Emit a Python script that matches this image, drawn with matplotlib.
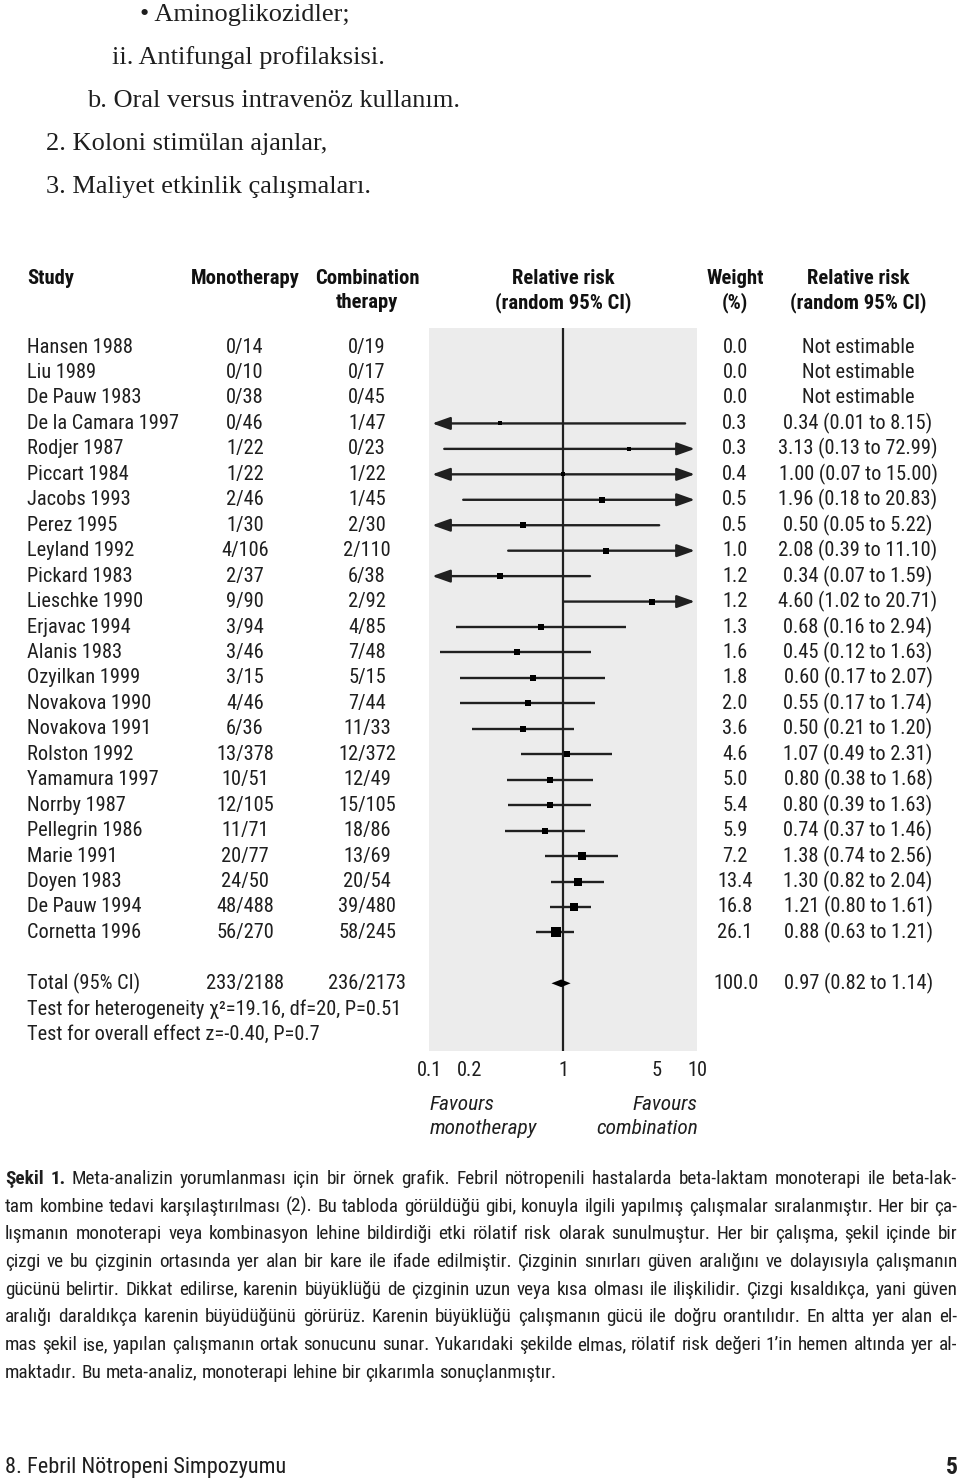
import os
import numpy as np
import matplotlib
matplotlib.use("Agg")
import matplotlib.pyplot as plt
from matplotlib import font_manager as fm
from matplotlib.transforms import blended_transform_factory

# ---------------- data ----------------
studies = ["Hansen 1988", "Liu 1989", "De Pauw 1983", "De la Camara 1997", "Rodjer 1987",
           "Piccart 1984", "Jacobs 1993", "Perez 1995", "Leyland 1992", "Pickard 1983",
           "Lieschke 1990", "Erjavac 1994", "Alanis 1983", "Ozyilkan 1999", "Novakova 1990",
           "Novakova 1991", "Rolston 1992", "Yamamura 1997", "Norrby 1987", "Pellegrin 1986",
           "Marie 1991", "Doyen 1983", "De Pauw 1994", "Cornetta 1996"]
mono = ["0/14", "0/10", "0/38", "0/46", "1/22", "1/22", "2/46", "1/30", "4/106", "2/37",
        "9/90", "3/94", "3/46", "3/15", "4/46", "6/36", "13/378", "10/51", "12/105", "11/71",
        "20/77", "24/50", "48/488", "56/270"]
comb = ["0/19", "0/17", "0/45", "1/47", "0/23", "1/22", "1/45", "2/30", "2/110", "6/38",
        "2/92", "4/85", "7/48", "5/15", "7/44", "11/33", "12/372", "12/49", "15/105", "18/86",
        "13/69", "20/54", "39/480", "58/245"]
weight = [0.0, 0.0, 0.0, 0.3, 0.3, 0.4, 0.5, 0.5, 1.0, 1.2, 1.2, 1.3, 1.6, 1.8, 2.0, 3.6,
          4.6, 5.0, 5.4, 5.9, 7.2, 13.4, 16.8, 26.1]
nan = np.nan
rr = [nan, nan, nan, 0.34, 3.13, 1.00, 1.96, 0.50, 2.08, 0.34, 4.60, 0.68, 0.45, 0.60, 0.55,
      0.50, 1.07, 0.80, 0.80, 0.74, 1.38, 1.30, 1.21, 0.88]
rr_lo = [nan, nan, nan, 0.01, 0.13, 0.07, 0.18, 0.05, 0.39, 0.07, 1.02, 0.16, 0.12, 0.17, 0.17,
         0.21, 0.49, 0.38, 0.39, 0.37, 0.74, 0.82, 0.80, 0.63]
rr_hi = [nan, nan, nan, 8.15, 72.99, 15.00, 20.83, 5.22, 11.10, 1.59, 20.71, 2.94, 1.63, 2.07,
         1.74, 1.20, 2.31, 1.68, 1.63, 1.46, 2.56, 2.04, 1.61, 1.21]
total_mono = "233/2188"
total_comb = "236/2173"
total_weight = 100.0
total_rr, total_lo, total_hi = 0.97, 0.82, 1.14
het_text = "Test for heterogeneity \u03c7\u00b2=19.16, df=20, P=0.51"
overall_text = "Test for overall effect z=-0.40, P=0.7"
xticks = [0.1, 0.2, 1, 5, 10]
xtick_labels = ["0.1", "0.2", "1", "5", "10"]

top_lines = ["\u2022 Aminoglikozidler;", "ii. Antifungal profilaksisi.",
             "b. Oral versus intravenöz kullanım.", "2. Koloni stimülan ajanlar,",
             "3. Maliyet etkinlik çalışmaları."]
caption_lines = [
    "Meta-analizin yorumlanması için bir örnek grafik. Febril nötropenili hastalarda beta-laktam monoterapi ile beta-lak-",
    "tam kombine tedavi karşılaştırılması (2). Bu tabloda görüldüğü gibi, konuyla ilgili yapılmış çalışmalar sıralanmıştır. Her bir ça-",
    "lışmanın monoterapi veya kombinasyon lehine bildirdiği etki rölatif risk olarak sunulmuştur. Her bir çalışma, şekil içinde bir",
    "çizgi ve bu çizginin ortasında yer alan bir kare ile ifade edilmiştir. Çizginin sınırları güven aralığını ve dolayısıyla çalışmanın",
    "gücünü belirtir. Dikkat edilirse, karenin büyüklüğü de çizginin uzun veya kısa olması ile ilişkilidir. Çizgi kısaldıkça, yani güven",
    "aralığı daraldıkça karenin büyüdüğünü görürüz. Karenin büyüklüğü çalışmanın gücü ile doğru orantılıdır. En altta yer alan el-",
    "mas şekil ise, yapılan çalışmanın ortak sonucunu sunar. Yukarıdaki şekilde elmas, rölatif risk değeri 1\u2019in hemen altında yer al-",
    "maktadır. Bu meta-analiz, monoterapi lehine bir çıkarımla sonuçlanmıştır."]
caption_label = "Şekil 1."
footer_left = "8. Febril Nötropeni Simpozyumu"
footer_right = "5"

# ---------------- fonts: prefer a condensed sans ----------------
all_paths = set(fm.findSystemFonts(fontext="ttf")) | {f.fname for f in fm.fontManager.ttflist}
by_base = {}
for p in all_paths:
    by_base.setdefault(os.path.basename(p).lower(), p)

candidates = [
    ("liberationsansnarrow-regular.ttf", "liberationsansnarrow-bold.ttf", "liberationsansnarrow-italic.ttf"),
    ("robotocondensed-regular.ttf", "robotocondensed-bold.ttf", "robotocondensed-italic.ttf"),
    ("robotocondensed-light.ttf", "robotocondensed-bold.ttf", "robotocondensed-lightitalic.ttf"),
    ("dejavusanscondensed.ttf", "dejavusanscondensed-bold.ttf", "dejavusanscondensed-oblique.ttf"),
    ("opensanscondensed-light.ttf", "opensanscondensed-bold.ttf", "opensanscondensed-lightitalic.ttf"),
    ("roboto-regular.ttf", "roboto-bold.ttf", "roboto-italic.ttf"),
    ("liberationsans-regular.ttf", "liberationsans-bold.ttf", "liberationsans-italic.ttf"),
]
font_files = None
for reg, bld, ita in candidates:
    if reg in by_base:
        r = by_base[reg]
        font_files = (r, by_base.get(bld, r), by_base.get(ita, r))
        break


def FP(kind, size):
    if font_files is None:
        p = fm.FontProperties(family="DejaVu Sans",
                              weight="bold" if kind == 1 else "normal",
                              style="italic" if kind == 2 else "normal")
    else:
        p = fm.FontProperties(fname=font_files[kind])
    p.set_size(size)
    return p


SERIF = "Liberation Serif"
TXT = "#1e1e1e"
LINE = "#202020"

fig = plt.figure(figsize=(9.6, 14.82), dpi=100)
bg = fig.add_axes([0, 0, 1, 1])
bg.set_xlim(0, 960)
bg.set_ylim(1482, 0)
bg.axis("off")
renderer = fig.canvas.get_renderer()


def text_w(s, kind, size):
    t = bg.text(0, 0, s, fontproperties=FP(kind, size))
    w = t.get_window_extent(renderer).width
    t.remove()
    return w


def fit_size(s, kind, target_px, base=14.0, cap=None):
    sz = base * target_px / text_w(s, kind, base)
    return min(sz, cap) if cap else sz


# ---------------- top serif text ----------------
top_x = [140, 112, 87, 46, 46]
for i, (s, x) in enumerate(zip(top_lines, top_x)):
    bg.text(x, 15 + 43 * i, s, family=[SERIF, "DejaVu Serif"], fontsize=19, color=TXT,
            va="center", ha="left")

# ---------------- sizes ----------------
FS = fit_size("De la Camara 1997", 0, 153, cap=16)
HFS = fit_size("Monotherapy", 1, 109, cap=16)
IFS = fit_size("monotherapy", 2, 108, cap=16)

# ---------------- forest panel ----------------
ax = fig.add_axes([429 / 960, 1 - 1051 / 1482, (697 - 429) / 960, (1051 - 328) / 1482])
ax.set_facecolor("#ececec")
for sp in ax.spines.values():
    sp.set_visible(False)
ax.set_xscale("log")
xmin, xmax = 0.1026, 9.92
ax.set_xlim(xmin, xmax)
ax.set_ylim(27.66, -0.75)
ax.set_yticks([])
ax.set_xticks(xticks)
ax.set_xticklabels(xtick_labels)
ax.xaxis.set_minor_locator(matplotlib.ticker.NullLocator())
ax.tick_params(axis="x", length=0, pad=7, labelcolor=TXT)
for lbl in ax.get_xticklabels():
    lbl.set_fontproperties(FP(0, FS))
ax.axvline(1, color=LINE, lw=1.6, zorder=2)

rows = np.arange(len(studies))
for i in rows:
    if np.isnan(rr[i]):
        continue
    lo, hi = rr_lo[i], rr_hi[i]
    left_arrow = lo < xmin
    right_arrow = hi > xmax
    lo_c = xmin * 1.03 if left_arrow else lo
    hi_c = xmax / 1.03 if right_arrow else hi
    if left_arrow and right_arrow:
        style = "<|-|>"
    elif left_arrow:
        style = "<|-"
    elif right_arrow:
        style = "-|>"
    else:
        style = "-"
    if style == "-":
        ax.plot([lo_c, hi_c], [i, i], color=LINE, lw=1.7, solid_capstyle="butt", zorder=3)
    else:
        ax.annotate("", xy=(hi_c, i), xytext=(lo_c, i),
                    arrowprops=dict(arrowstyle=style + ",head_length=0.9,head_width=0.32",
                                    color=LINE, lw=1.7, shrinkA=0, shrinkB=0,
                                    mutation_scale=12), zorder=3)
    side_px = 4.2 + 1.15 * np.sqrt(weight[i])
    ax.plot(rr[i], i, marker="s", ms=side_px * 0.72, color="black", mec="black", mew=0, zorder=4)

total_row = len(studies) + 1
ax.fill([total_lo, total_rr, total_hi, total_rr],
        [total_row, total_row - 0.15, total_row, total_row + 0.15],
        color="black", zorder=4, lw=0)

# ---------------- table text ----------------
tr = blended_transform_factory(bg.transData, ax.transData)


def H(x, y, s, ha):
    bg.text(x, y, s, ha=ha, va="center", color="#111111", fontproperties=FP(1, HFS))


H(27, 278, "Study", "left")
H(245, 278, "Monotherapy", "center")
H(367, 278, "Combination", "center")
H(367, 303, "therapy", "center")
H(563, 278, "Relative risk", "center")
H(563, 303, "(random 95% CI)", "center")
H(735, 278, "Weight", "center")
H(735, 303, "(%)", "center")
H(858, 278, "Relative risk", "center")
H(858, 303, "(random 95% CI)", "center")


def C(x, y, s, ha):
    bg.text(x, y, s, ha=ha, va="center", color=TXT, transform=tr, fontproperties=FP(0, FS))


for i in rows:
    C(27, i, studies[i], "left")
    C(245, i, mono[i], "center")
    C(367, i, comb[i], "center")
    C(735, i, f"{weight[i]:.1f}", "center")
    if np.isnan(rr[i]):
        s = "Not estimable"
    else:
        s = f"{rr[i]:.2f} ({rr_lo[i]:.2f} to {rr_hi[i]:.2f})"
    C(858, i, s, "center")

C(27, total_row, "Total (95% CI)", "left")
C(245, total_row, total_mono, "center")
C(367, total_row, total_comb, "center")
C(736, total_row, f"{total_weight:.1f}", "center")
C(859, total_row, f"{total_rr:.2f} ({total_lo:.2f} to {total_hi:.2f})", "center")
C(27, total_row + 1, het_text, "left")
C(27, total_row + 2, overall_text, "left")

for x, ha, words in [(430, "left", ("Favours", "monotherapy")),
                     (698, "right", ("Favours", "combination"))]:
    bg.text(x, 1105, words[0], ha=ha, va="center", color=TXT, fontproperties=FP(2, IFS))
    bg.text(x, 1129, words[1], ha=ha, va="center", color=TXT, fontproperties=FP(2, IFS))

# ---------------- caption (justified, baseline-aligned) ----------------
full_lines = [caption_label + " " + caption_lines[0]] + caption_lines[1:]
probe = 14.0
max_w = max(text_w(l, 0, probe) for l in full_lines[:-1])
CAP_FS = min(16.0, probe * 948 / max_w)
space_w = text_w("a a", 0, CAP_FS) - text_w("aa", 0, CAP_FS)
cap_half = 0.5 * 0.711 * CAP_FS * 100 / 72


def draw_line(tokens, x0, x1, y, justify):
    words = []
    for txt, bold in tokens:
        for w in txt.split(" "):
            if w:
                words.append((w, bold))
    arts, widths = [], []
    for w, b in words:
        t = bg.text(x0, y + cap_half, w, color=TXT, va="baseline", ha="left",
                    fontproperties=FP(1 if b else 0, CAP_FS))
        arts.append(t)
        widths.append(t.get_window_extent(renderer).width)
    if justify and len(words) > 1:
        gap = (x1 - x0 - sum(widths)) / (len(words) - 1)
    else:
        gap = space_w
    x = x0
    for t, w in zip(arts, widths):
        t.set_x(x)
        x += w + gap


for k, line in enumerate(caption_lines):
    y = 1177 + 27.7 * k
    toks = [(line, False)]
    if k == 0:
        toks = [(caption_label, True)] + toks
    draw_line(toks, 5, 957, y, justify=(k < len(caption_lines) - 1))

bg.text(5, 1467, footer_left, color=TXT, va="center", ha="left", fontproperties=FP(0, 16))
bg.text(958, 1467, footer_right, color=TXT, va="center", ha="right", fontproperties=FP(1, 17))

fig.savefig("out.png", dpi=100)
